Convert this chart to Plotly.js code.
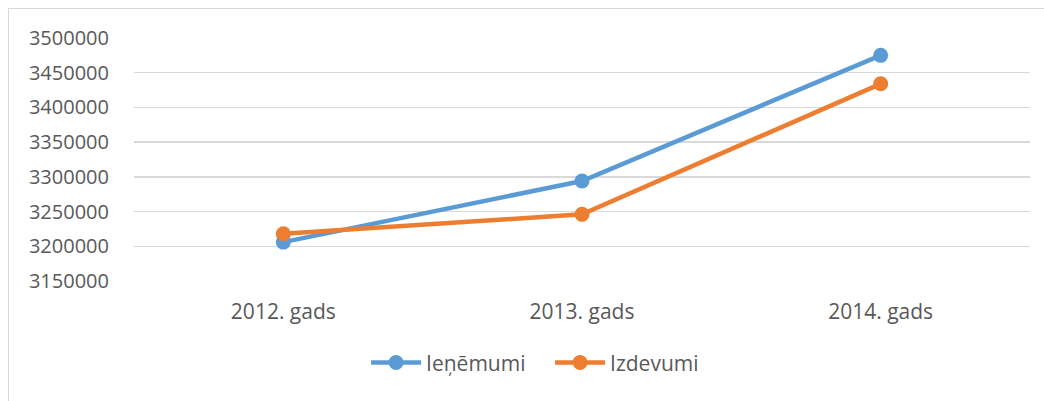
<!DOCTYPE html>
<html>
<head>
<meta charset="utf-8">
<script src="https://cdn.plot.ly/plotly-3.0.1.min.js"></script>
<style>
html,body{margin:0;padding:0;background:#fff;}
#frame{position:absolute;left:8px;top:8px;width:1100px;height:500px;border-left:1.5px solid #d9d9d9;border-top:1.5px solid #d9d9d9;}
#chart{position:absolute;left:0;top:0;width:1044px;height:401px;}
</style>
</head>
<body>
<div id="frame"></div>
<div id="chart"></div>
<script>
const categories = ["2012. gads", "2013. gads", "2014. gads"];
const seriesNames = ["Ieņēmumi", "Izdevumi"];
const ienemumi = [3206000, 3294000, 3475000];
const izdevumi = [3218000, 3246000, 3434000];
const yTicks = [3150000, 3200000, 3250000, 3300000, 3350000, 3400000, 3450000, 3500000];

const font = {family: "'Open Sans', sans-serif", size: 20, color: "#595959"};
const xfont = {family: "'Open Sans', sans-serif", size: 21, color: "#595959"};
const lfont = {family: "'Open Sans', sans-serif", size: 21, color: "#595959"};

const traces = [
  {x: categories, y: ienemumi, name: seriesNames[0], type: "scatter", mode: "lines+markers",
   line: {color: "#5b9bd5", width: 4.5}, marker: {color: "#5b9bd5", size: 15}},
  {x: categories, y: izdevumi, name: seriesNames[1], type: "scatter", mode: "lines+markers",
   line: {color: "#ed7d31", width: 4.5}, marker: {color: "#ed7d31", size: 15}}
];

const layout = {
  width: 1044, height: 401,
  margin: {l: 134, r: 14, t: 38, b: 120},
  paper_bgcolor: "rgba(0,0,0,0)",
  plot_bgcolor: "rgba(0,0,0,0)",
  font: font,
  showlegend: true,
  legend: {orientation: "h", x: 0.259, xanchor: "left", y: -0.337, yanchor: "middle",
           font: lfont, itemwidth: 50, entrywidth: 119, tracegroupgap: 0},
  xaxis: {type: "category", range: [-0.5, 2.5], showgrid: false, zeroline: false, showline: false,
          ticks: "", ticklabelstandoff: 16, tickfont: xfont, fixedrange: true},
  yaxis: {range: [3150000, 3500000], tickvals: yTicks, ticktext: yTicks.map(String),
          showgrid: true, gridcolor: "#d9d9d9", gridwidth: 1.3, zeroline: false, showline: false,
          ticks: "", ticklabelstandoff: 24, tickfont: font, fixedrange: true}
};

Plotly.newPlot("chart", traces, layout, {displayModeBar: false, staticPlot: true});
</script>
</body>
</html>
